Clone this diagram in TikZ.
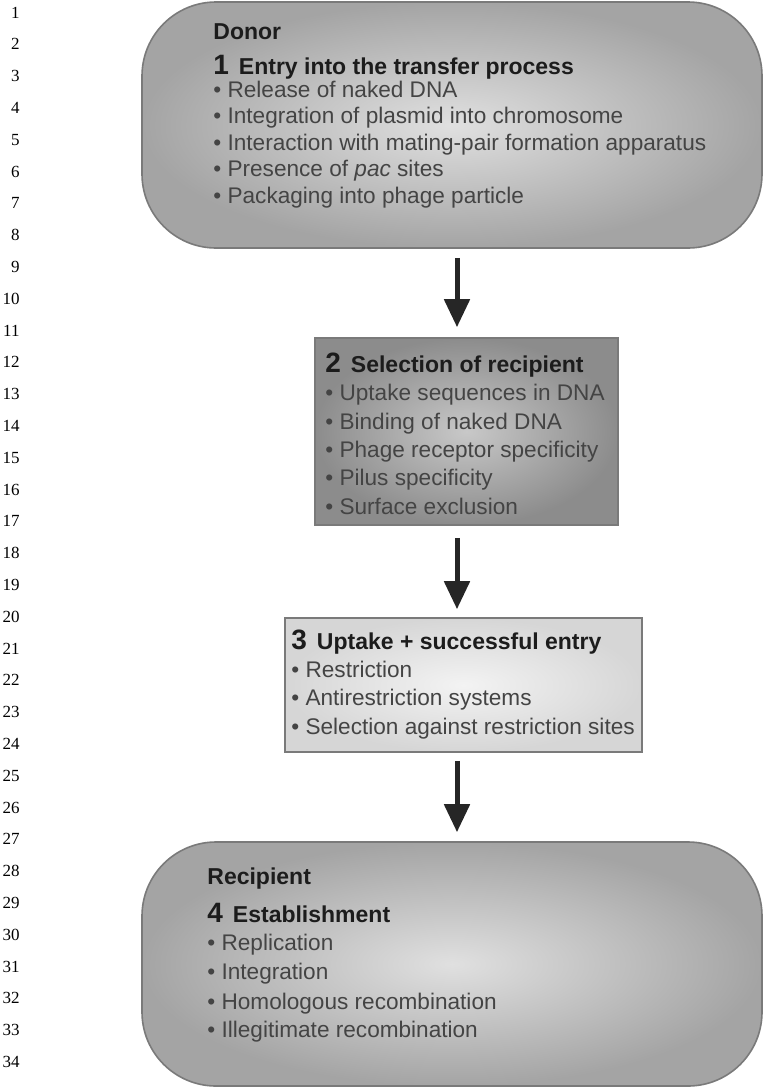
\documentclass[tikz,border=0pt]{standalone}
\usepackage{fontspec}
\setmainfont{Liberation Sans}
\newfontfamily\linenofont{Liberation Serif}
\usetikzlibrary{arrows.meta}
\definecolor{boxline}{HTML}{7A7A7A}
\definecolor{headgray}{HTML}{1C1C1C}
\definecolor{itemgray}{HTML}{444444}
\definecolor{arrowgray}{HTML}{262626}
\definecolor{cellin}{HTML}{E0E0E0}
\definecolor{cellout}{HTML}{A4A4A4}
\definecolor{selin}{HTML}{C8C8C8}
\definecolor{selout}{HTML}{8C8C8C}
\definecolor{upin}{HTML}{F3F3F3}
\definecolor{upout}{HTML}{D6D6D6}
\tikzset{
  lineno/.style={anchor=base east, inner sep=0pt, font=\linenofont\fontsize{8.5}{10}\selectfont},
  stagebox/.style={draw=boxline, line width=0.8pt, inner sep=0pt, shade},
  cellbox/.style={stagebox, rounded corners=37pt, inner color=cellin, outer color=cellout},
  headtext/.style={anchor=base west, inner sep=0pt, text=headgray, font=\bfseries\fontsize{11.5}{13}\selectfont},
  itemtext/.style={anchor=base west, inner sep=0pt, text=itemgray, font=\fontsize{11.3}{13}\selectfont},
  flow/.style={draw=arrowgray, line width=2.5pt, -{Triangle[width=12.5pt,length=14pt]}},
}
\newcommand{\stageno}[1]{{\fontsize{14}{15}\selectfont #1}\hspace{5pt}}
\begin{document}
\begin{tikzpicture}[x=0.5pt,y=-0.5pt]
  \useasboundingbox (0,0) rectangle (764,1088);
  % line numbers
  \path
    (20,18.0) node[lineno] (l1){1}
    (20,49.8) node[lineno] (l2){2}
    (20,81.6) node[lineno] (l3){3}
    (20,113.4) node[lineno] (l4){4}
    (20,145.2) node[lineno] (l5){5}
    (20,177.0) node[lineno] (l6){6}
    (20,208.8) node[lineno] (l7){7}
    (20,240.6) node[lineno] (l8){8}
    (20,272.4) node[lineno] (l9){9}
    (20,304.2) node[lineno] (l10){10}
    (20,336.0) node[lineno] (l11){11}
    (20,367.8) node[lineno] (l12){12}
    (20,399.6) node[lineno] (l13){13}
    (20,431.4) node[lineno] (l14){14}
    (20,463.2) node[lineno] (l15){15}
    (20,495.0) node[lineno] (l16){16}
    (20,526.8) node[lineno] (l17){17}
    (20,558.6) node[lineno] (l18){18}
    (20,590.4) node[lineno] (l19){19}
    (20,622.2) node[lineno] (l20){20}
    (20,654.0) node[lineno] (l21){21}
    (20,685.8) node[lineno] (l22){22}
    (20,717.6) node[lineno] (l23){23}
    (20,749.4) node[lineno] (l24){24}
    (20,781.2) node[lineno] (l25){25}
    (20,813.0) node[lineno] (l26){26}
    (20,844.8) node[lineno] (l27){27}
    (20,876.6) node[lineno] (l28){28}
    (20,908.4) node[lineno] (l29){29}
    (20,940.2) node[lineno] (l30){30}
    (20,972.0) node[lineno] (l31){31}
    (20,1003.8) node[lineno] (l32){32}
    (20,1035.6) node[lineno] (l33){33}
    (20,1067.4) node[lineno] (l34){34};
  % the four stages
  \node[cellbox, minimum width=310pt, minimum height=123pt] (donor) at (452,125) {};
  \node[stagebox, inner color=selin, outer color=selout, minimum width=151.5pt, minimum height=93.5pt] (select) at (466.5,431.5) {};
  \node[stagebox, inner color=upin, outer color=upout, minimum width=178.5pt, minimum height=67pt] (uptake) at (463.5,685) {};
  \node[cellbox, minimum width=310pt, minimum height=122pt] (recip) at (452,964) {};
  \coordinate (axis) at (457,0);
  % texts
  \path
    (213,39) node[headtext] (donorlabel){Donor}
    (213,74) node[headtext] (t1){\stageno{1}Entry into the transfer process}
    (213,97) node[itemtext] (i11){\textbullet\ Release of naked DNA}
    (213,123.5) node[itemtext] (i12){\textbullet\ Integration of plasmid into chromosome}
    (213,150) node[itemtext] (i13){\textbullet\ Interaction with mating-pair formation apparatus}
    (213,176.5) node[itemtext] (i14){\textbullet\ Presence of \textit{pac} sites}
    (213,203) node[itemtext] (i15){\textbullet\ Packaging into phage particle};
  \path
    (325,372) node[headtext] (t2){\stageno{2}Selection of recipient}
    (325,400) node[itemtext] (i21){\textbullet\ Uptake sequences in DNA}
    (325,429) node[itemtext] (i22){\textbullet\ Binding of naked DNA}
    (325,457) node[itemtext] (i23){\textbullet\ Phage receptor specificity}
    (325,485) node[itemtext] (i24){\textbullet\ Pilus specificity}
    (325,514) node[itemtext] (i25){\textbullet\ Surface exclusion};
  \path
    (291,649) node[headtext] (t3){\stageno{3}Uptake + successful entry}
    (291,677) node[itemtext] (i31){\textbullet\ Restriction}
    (291,705) node[itemtext] (i32){\textbullet\ Antirestriction systems}
    (291,734) node[itemtext] (i33){\textbullet\ Selection against restriction sites};
  \path
    (207,884) node[headtext] (reciplabel){Recipient}
    (207,922) node[headtext] (t4){\stageno{4}Establishment}
    (207,950) node[itemtext] (i41){\textbullet\ Replication}
    (207,979) node[itemtext] (i42){\textbullet\ Integration}
    (207,1009) node[itemtext] (i43){\textbullet\ Homologous recombination}
    (207,1037) node[itemtext] (i44){\textbullet\ Illegitimate recombination};
  % arrows
  \draw[flow, shorten <=4.5pt, shorten >=5pt] (donor.south -| axis) -- (select.north -| axis);
  \draw[flow, shorten <=6pt, shorten >=4pt] (select.south -| axis) -- (uptake.north -| axis);
  \draw[flow, shorten <=4pt, shorten >=4.5pt] (uptake.south -| axis) -- (recip.north -| axis);
\end{tikzpicture}
\end{document}
